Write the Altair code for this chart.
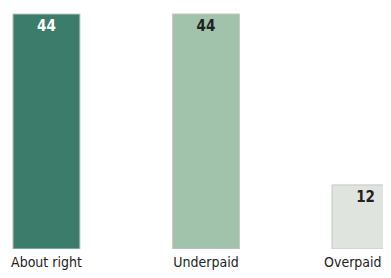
import altair as alt
import pandas as pd

categories = ["About right", "Underpaid", "Overpaid"]
values = [44, 44, 12]
colors = ["#3b7d6a", "#a1c2ab", "#dfe4de"]
text_colors = ["#ffffff", "#222222", "#222222"]

df = pd.DataFrame({"cat": categories, "val": values, "col": colors, "tcol": text_colors})

FONT = "DejaVu Sans Condensed, Liberation Sans Narrow, sans-serif"

x = alt.X("cat:N", sort=categories,
          scale=alt.Scale(range=[0, 396], paddingInner=0.58, paddingOuter=0.031),
          axis=alt.Axis(title=None, labelAngle=0, domain=False, ticks=False,
                        labelFont=FONT, labelFontSize=14,
                        labelColor="#222222", labelPadding=6,
                        labelAlign={"condition": {"test": "datum.value === 'Overpaid'", "value": "right"},
                                    "value": "center"},
                        labelOffset={"condition": {"test": "datum.value === 'Overpaid'", "value": 16},
                                     "value": 0}))
y = alt.Y("val:Q", scale=alt.Scale(domain=[0, 45.12], nice=False), axis=None)

bars = alt.Chart(df).mark_bar(stroke="#c8c8c8", strokeWidth=1, clip=True).encode(
    x=x, y=y, color=alt.Color("col:N", scale=None))

labels = alt.Chart(df).mark_text(baseline="alphabetic", dy=17, font=FONT,
                                 fontSize=15, fontWeight="bold", clip=True).encode(
    x=x, y=y, text="val:Q", color=alt.Color("tcol:N", scale=None))

chart = (bars + labels).properties(
    width=375, height=241,
    padding={"left": 0, "top": 0, "right": 0, "bottom": 21},
    autosize=alt.AutoSizeParams(type="none")
).configure_view(stroke=None)

chart.save("out.html", embed_options={"renderer": "svg", "actions": False})
